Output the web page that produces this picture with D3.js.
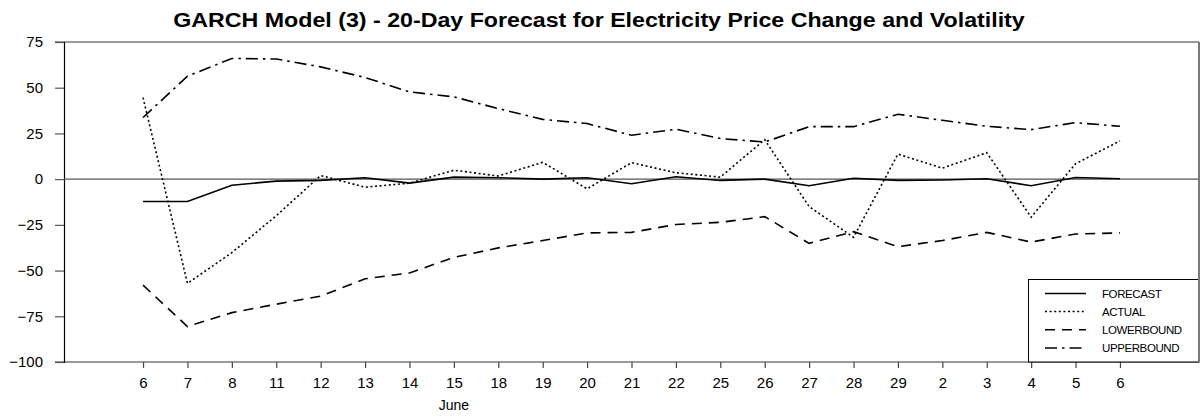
<!DOCTYPE html>
<html>
<head>
<meta charset="utf-8">
<script src="https://cdn.jsdelivr.net/npm/d3@7"></script>
<style>
  html, body { margin: 0; padding: 0; background: #fff; }
  svg { display: block; font-family: "Liberation Sans", Arial, sans-serif; }
</style>
</head>
<body>
<svg id="chart" width="1201" height="416"></svg>
<script>
// Trading days (June into early July) shown on the x axis
const dayLabels = ["6","7","8","11","12","13","14","15","18","19","20","21","22","25","26","27","28","29","2","3","4","5","6"];

// Series values
const forecast   = [-12.2,-12.2,-3.3,-1.1,-0.7,0.8,-2.2,1.1,0.8,0.0,0.8,-2.5,1.3,-0.7,0.0,-3.6,0.5,-0.7,-0.5,0.2,-3.6,0.9,0.2];
const actual     = [44.6,-57.0,-40.2,-20.0,2.0,-4.4,-2.2,4.9,1.7,9.2,-5.3,9.0,3.5,1.1,21.6,-15.0,-31.8,13.7,6.0,14.5,-20.8,8.4,20.9];
const lowerBound = [-58.0,-80.6,-73.0,-68.4,-64.0,-54.5,-51.3,-42.8,-37.6,-33.6,-29.4,-29.1,-24.8,-23.6,-20.5,-35.1,-28.7,-36.9,-33.6,-29.1,-34.4,-30.0,-29.4];
const upperBound = [33.7,56.3,66.0,65.7,61.4,55.6,47.7,45.0,38.6,32.7,30.4,24.0,27.3,22.2,20.3,28.7,28.7,35.5,32.2,28.9,27.1,30.9,28.9];

const yTicks = [75, 50, 25, 0, -25, -50, -75, -100];
const seriesNames = ["FORECAST", "ACTUAL", "LOWERBOUND", "UPPERBOUND"];

const titleText = "GARCH Model (3) - 20-Day Forecast for Electricity Price Change and Volatility";
const monthLabel = "June";

(function () {
  // Plot frame
  const plotLeft = 64, plotRight = 1199, plotTop = 42, plotBottom = 362;
  const fontFamily = "'Liberation Sans', Arial, sans-serif";

  const svg = d3.select("#chart");

  const idx = d3.range(dayLabels.length);
  const x = d3.scalePoint().domain(idx).range([plotLeft, plotRight]).padding(1.78);
  const y = d3.scaleLinear().domain([-100, 75]).range([plotBottom, plotTop]);

  // Title, slightly widened glyphs
  svg.append("g")
    .attr("transform", "translate(599,27) scale(1.19,1)")
    .append("text")
    .attr("x", 0).attr("y", 0)
    .attr("text-anchor", "middle")
    .style("font-size", "19.5px").style("font-weight", "bold")
    .attr("fill", "#000")
    .text(titleText);

  // Top and bottom frame lines (extend left past the y axis like ticks)
  svg.append("line").attr("x1", 55).attr("x2", plotRight).attr("y1", plotTop).attr("y2", plotTop)
    .attr("stroke", "#7a7a7a").attr("stroke-width", 1.5);
  svg.append("line").attr("x1", 55).attr("x2", plotRight).attr("y1", plotBottom).attr("y2", plotBottom)
    .attr("stroke", "#7a7a7a").attr("stroke-width", 1.5);

  // Y axis
  const yAxis = d3.axisLeft(y).tickValues(yTicks).tickSize(9).tickPadding(12);
  const gy = svg.append("g").attr("transform", `translate(${plotLeft},0)`).call(yAxis);
  gy.select(".domain").attr("stroke", "#000").attr("stroke-width", 1.2);
  gy.selectAll(".tick line").attr("stroke", "#555").attr("stroke-width", 1.2);
  gy.selectAll(".tick text").style("font-size", "15px").attr("fill", "#000")
    .style("font-family", fontFamily);

  // X axis
  const xAxis = d3.axisBottom(x).tickFormat(i => dayLabels[i]).tickSize(6).tickPadding(9.5);
  const gx = svg.append("g").attr("transform", `translate(0,${plotBottom})`).call(xAxis);
  gx.select(".domain").remove();
  gx.selectAll(".tick line").attr("stroke", "#444").attr("stroke-width", 1.2);
  gx.selectAll(".tick text").style("font-size", "15px").attr("fill", "#000")
    .style("font-family", fontFamily);

  // Month label under the axis
  svg.append("text")
    .attr("x", x(7)).attr("y", 410)
    .attr("text-anchor", "middle")
    .style("font-size", "14px").attr("fill", "#000")
    .text(monthLabel);

  // Zero reference line
  svg.append("line").attr("x1", plotLeft).attr("x2", plotRight).attr("y1", y(0)).attr("y2", y(0))
    .attr("stroke", "#555").attr("stroke-width", 1.2);

  // Series lines
  const styles = [
    { data: forecast,   dash: null,         width: 1.6 },
    { data: actual,     dash: "2,2.6",      width: 1.6 },
    { data: lowerBound, dash: "10,7",       width: 1.6 },
    { data: upperBound, dash: "12,5,2.5,5", width: 1.6 }
  ];

  const line = d3.line().x((d, i) => x(i)).y(d => y(d));

  styles.forEach(s => {
    svg.append("path")
      .datum(s.data)
      .attr("d", line)
      .attr("fill", "none")
      .attr("stroke", "#000")
      .attr("stroke-width", s.width)
      .attr("stroke-dasharray", s.dash);
  });

  // Legend
  const lg = svg.append("g");
  lg.append("rect")
    .attr("x", 1028.5).attr("y", 279.5).attr("width", plotRight - 1028.5).attr("height", plotBottom - 279.5)
    .attr("fill", "#fff").attr("stroke", "#000").attr("stroke-width", 1);

  const rowY = [293.5, 311.5, 329.8, 348];
  seriesNames.forEach((name, i) => {
    lg.append("line")
      .attr("x1", 1045).attr("x2", 1086).attr("y1", rowY[i]).attr("y2", rowY[i])
      .attr("stroke", "#000").attr("stroke-width", 1.6)
      .attr("stroke-dasharray", styles[i].dash);
    lg.append("text")
      .attr("x", 1102).attr("y", rowY[i] + 4.2)
      .style("font-size", "11.5px").style("letter-spacing", "-0.4px").attr("fill", "#000")
      .text(name);
  });

  // Right frame edge drawn last so it sits above the legend box
  svg.append("line").attr("x1", plotRight).attr("x2", plotRight).attr("y1", plotTop).attr("y2", plotBottom)
    .attr("stroke", "#7a7a7a").attr("stroke-width", 2);
})();
</script>
</body>
</html>
